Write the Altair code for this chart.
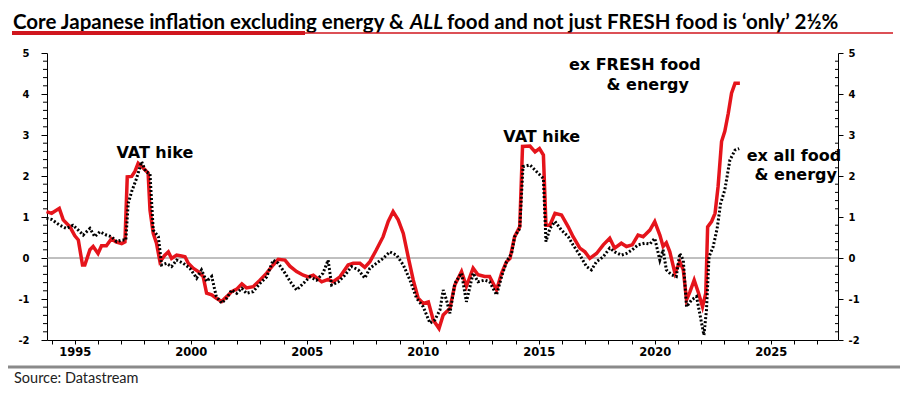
import altair as alt
import pandas as pd

# ---- data (decimal years, % y/y) ----
red_years = [1993.78, 1994.0, 1994.33, 1994.5, 1994.79, 1995.0, 1995.15, 1995.33, 1995.43, 1995.65,
             1995.79, 1996.0, 1996.15, 1996.36, 1996.58, 1996.77, 1997.02, 1997.16, 1997.26, 1997.45,
             1997.59, 1997.73, 1997.88, 1998.02, 1998.16, 1998.24, 1998.38, 1998.52, 1998.67, 1998.88,
             1999.03, 1999.17, 1999.39, 1999.6, 1999.75, 1999.89, 2000.1, 2000.32, 2000.53, 2000.68,
             2000.9, 2001.1, 2001.33, 2001.47, 2001.62, 2001.76, 2001.98, 2002.2, 2002.4, 2002.69,
             2002.98, 2003.27, 2003.55, 2003.77, 2004.06, 2004.27, 2004.56, 2004.85, 2005.06, 2005.28,
             2005.64, 2005.92, 2006.14, 2006.43, 2006.78, 2007.0, 2007.29, 2007.5, 2007.72, 2008.0,
             2008.29, 2008.51, 2008.72, 2008.94, 2009.16, 2009.37, 2009.59, 2009.8, 2010.02, 2010.24,
             2010.45, 2010.7, 2010.88, 2011.17, 2011.38, 2011.67, 2011.88, 2012.17, 2012.38, 2012.67,
             2012.88, 2013.18, 2013.4, 2013.61, 2013.76, 2013.96, 2014.18, 2014.3, 2014.62, 2014.84,
             2015.03, 2015.2, 2015.31, 2015.48, 2015.7, 2015.98, 2016.27, 2016.48, 2016.77, 2016.99,
             2017.2, 2017.49, 2017.78, 2018.06, 2018.27, 2018.56, 2018.78, 2019.03, 2019.28, 2019.5,
             2019.79, 2020.0, 2020.22, 2020.36, 2020.5, 2020.65, 2020.87, 2021.08, 2021.23, 2021.37,
             2021.52, 2021.7, 2021.89, 2022.06, 2022.2, 2022.28, 2022.45, 2022.6, 2022.73, 2022.88,
             2023.02, 2023.17, 2023.31, 2023.46, 2023.67]
red_vals = [1.13, 1.09, 1.21, 0.93, 0.76, 0.54, 0.44, -0.17, -0.17, 0.2,
            0.28, 0.11, 0.3, 0.3, 0.47, 0.39, 0.35, 0.39, 1.98, 1.99,
            2.11, 2.31, 2.23, 2.15, 2.07, 1.17, 0.6, 0.36, -0.09, 0.07,
            0.15, -0.01, 0.07, 0.05, 0.03, -0.13, -0.25, -0.33, -0.45, -0.86,
            -0.9, -0.98, -1.06, -0.98, -0.9, -0.82, -0.76, -0.63, -0.73, -0.7,
            -0.54, -0.37, -0.17, -0.03, -0.05, -0.2, -0.33, -0.42, -0.46, -0.42,
            -0.58, -0.52, -0.58, -0.46, -0.17, -0.13, -0.13, -0.23, -0.09, 0.2,
            0.52, 0.89, 1.13, 0.93, 0.6, 0.03, -0.54, -0.98, -1.11, -1.07,
            -1.51, -1.72, -1.39, -1.23, -0.66, -0.33, -0.69, -0.25, -0.41, -0.45,
            -0.45, -0.78, -0.37, -0.09, -0.01, 0.52, 0.76, 2.72, 2.73, 2.59,
            2.67, 2.51, 0.8, 0.8, 1.09, 1.05, 0.76, 0.52, 0.24, 0.15,
            -0.01, 0.11, 0.32, 0.48, 0.24, 0.36, 0.28, 0.32, 0.56, 0.52,
            0.68, 0.89, 0.56, 0.28, 0.37, 0.15, -0.37, -0.09, -0.29, -1.02,
            -0.82, -0.54, -0.86, -1.19, -0.86, 0.76, 0.89, 1.09, 1.74, 2.84,
            3.09, 3.53, 4.02, 4.26, 4.26]

blk_years = [1993.78, 1994.0, 1994.35, 1994.64, 1994.92, 1995.15, 1995.36, 1995.65, 1995.86, 1996.08,
             1996.36, 1996.58, 1996.8, 1997.02, 1997.2, 1997.3, 1997.45, 1997.66, 1997.88, 1998.06,
             1998.24, 1998.38, 1998.6, 1998.74, 1998.95, 1999.17, 1999.39, 1999.68, 1999.96, 2000.25,
             2000.46, 2000.68, 2000.9, 2001.1, 2001.33, 2001.55, 2001.76, 2001.98, 2002.2, 2002.4,
             2002.69, 2002.98, 2003.27, 2003.55, 2003.77, 2004.06, 2004.34, 2004.56, 2004.85, 2005.13,
             2005.42, 2005.7, 2005.92, 2006.07, 2006.36, 2006.64, 2006.93, 2007.22, 2007.5, 2007.72,
             2008.0, 2008.29, 2008.58, 2008.87, 2009.16, 2009.45, 2009.73, 2010.02, 2010.31, 2010.52,
             2010.74, 2010.88, 2011.02, 2011.17, 2011.38, 2011.67, 2011.88, 2012.17, 2012.38, 2012.67,
             2012.88, 2013.18, 2013.4, 2013.61, 2013.83, 2013.96, 2014.18, 2014.32, 2014.62, 2014.9,
             2015.2, 2015.31, 2015.48, 2015.7, 2015.98, 2016.27, 2016.48, 2016.77, 2017.06, 2017.27,
             2017.49, 2017.78, 2018.06, 2018.27, 2018.56, 2018.78, 2019.03, 2019.28, 2019.57, 2019.79,
             2020.0, 2020.22, 2020.36, 2020.5, 2020.72, 2020.93, 2021.08, 2021.23, 2021.37, 2021.59,
             2021.8, 2022.02, 2022.12, 2022.23, 2022.34, 2022.52, 2022.69, 2022.84, 2023.02, 2023.24,
             2023.46, 2023.64]
blk_vals = [0.97, 0.94, 0.8, 0.72, 0.8, 0.68, 0.56, 0.72, 0.52, 0.64,
            0.56, 0.52, 0.4, 0.44, 0.44, 1.33, 1.62, 1.94, 2.35, 2.1,
            2.06, 0.68, 0.52, -0.17, -0.13, -0.21, -0.05, -0.13, -0.25, -0.49,
            -0.29, -0.57, -0.45, -0.94, -1.1, -0.98, -0.78, -0.86, -0.74, -0.86,
            -0.82, -0.62, -0.46, -0.05, -0.13, -0.37, -0.62, -0.78, -0.62, -0.46,
            -0.54, -0.37, -0.05, -0.66, -0.58, -0.42, -0.21, -0.29, -0.49, -0.25,
            -0.13, -0.01, 0.15, 0.07, -0.17, -0.54, -0.98, -1.19, -1.59, -1.51,
            -1.27, -0.78, -1.02, -1.35, -0.62, -0.37, -1.07, -0.37, -0.58, -0.54,
            -0.58, -0.9, -0.45, -0.09, 0.11, 0.52, 0.72, 2.23, 2.27, 2.11,
            1.94, 0.4, 0.72, 0.89, 0.68, 0.52, 0.32, 0.07, -0.21, -0.29,
            -0.09, 0.03, 0.24, 0.15, 0.07, 0.11, 0.2, 0.32, 0.36, 0.34,
            0.48, -0.05, 0.2, -0.29, -0.41, -0.45, 0.11, -0.05, -1.19, -1.02,
            -0.94, -1.59, -1.88, -1.27, 0.03, 0.28, 0.72, 1.33, 1.66, 2.39,
            2.63, 2.67]

ann_labels = ["VAT hike", "VAT hike", "ex FRESH food", "& energy", "ex all food", "& energy"]
ann_x = [1998.45, 2015.13, 2019.14, 2019.7, 2026.0, 2026.08]
ann_y = [2.56, 2.95, 4.7, 4.23, 2.5, 2.03]

x_tick_years = list(range(1994, 2028))
y_major = [-2, -1, 0, 1, 2, 3, 4, 5]
y_minor = [-1.8, -1.6, -1.4, -1.2, -0.8, -0.6, -0.4, -0.2, 0.2, 0.4, 0.6, 0.8,
           1.2, 1.4, 1.6, 1.8, 2.2, 2.4, 2.6, 2.8, 3.2, 3.4, 3.6, 3.8, 4.2, 4.4, 4.6, 4.8]

title_1 = "Core Japanese inflation excluding energy &"
title_2 = "ALL"
title_3 = "food and not just FRESH food is \u2018only\u2019 2\u00bd%"
source_text = "Source: Datastream"

# ---- chart ----
W, H = 791, 287
PL, PT = 39, 45  # plot origin at page (47, 53)

red_df = pd.DataFrame({"year": red_years, "val": red_vals})
blk_df = pd.DataFrame({"year": blk_years, "val": blk_vals})
ann_df = pd.DataFrame({"year": ann_x, "val": ann_y, "label": ann_labels})
minor_df = pd.DataFrame({"val": y_minor})
one = pd.DataFrame({"val": [0]})

xscale = alt.Scale(domain=[1993.8, 2027.9], nice=False, zero=False)
yscale = alt.Scale(domain=[-2, 5], nice=False, zero=False)

xaxis = alt.Axis(values=x_tick_years, labelExpr="datum.value % 5 == 0 ? '' + datum.value : ''",
                 tickSize=4, tickColor="black", domainColor="black", labelColor="black",
                 labelFont="DejaVu Sans", labelFontWeight="bold", labelFontSize=11.5,
                 labelPadding=2, grid=False, title=None, labelOverlap=False, labelFlush=False)
X = alt.X("year:Q", scale=xscale, axis=xaxis)

left_major = alt.Axis(orient="left", values=y_major, labelExpr="'' + datum.value", tickSize=6,
                      tickColor="black", domainColor="black", labelColor="black",
                      labelFont="DejaVu Sans", labelFontWeight="bold", labelFontSize=10,
                      labelPadding=12, grid=False, title=None, labelOverlap=False)
right_major = alt.Axis(orient="right", values=y_major, labelExpr="'' + datum.value", tickSize=5,
                       tickColor="black", domainColor="black", labelColor="black",
                       labelFont="DejaVu Sans", labelFontWeight="bold", labelFontSize=10,
                       labelPadding=5, grid=False, title=None, labelOverlap=False)

RED = "#e5141b"

red = alt.Chart(red_df).mark_line(color=RED, strokeWidth=3.5).encode(
    x=X, y=alt.Y("val:Q", scale=yscale, axis=left_major))
blk = alt.Chart(blk_df).mark_line(color="black", strokeWidth=3, strokeDash=[2, 2]).encode(
    x=X, y=alt.Y("val:Q", scale=yscale, axis=None))
# minor ticks (left: outward, right: inward)
lminor = alt.Chart(minor_df).mark_rule(color="black", strokeWidth=1).encode(
    y=alt.Y("val:Q", scale=yscale, axis=None), x=alt.value(-4), x2=alt.value(0))
rminor = alt.Chart(minor_df).mark_rule(color="black", strokeWidth=1).encode(
    y=alt.Y("val:Q", scale=yscale, axis=None), x=alt.value(W - 3), x2=alt.value(W))
zero = alt.Chart(one).mark_rule(color="#808080", strokeWidth=1).encode(
    y=alt.Y("val:Q", scale=yscale, axis=right_major))
ann = alt.Chart(ann_df).mark_text(font="DejaVu Sans", fontWeight="bold", fontSize=16,
                                  color="black").encode(
    x=X, y=alt.Y("val:Q", scale=yscale, axis=None), text="label:N")


def ptext(s, ax, ay, **kw):
    return alt.Chart(one).mark_text(text=s, align="left", baseline="alphabetic", **kw).encode(
        x=alt.value(ax - 8 - PL), y=alt.value(ay - 8 - PT))


def prule(ax1, ax2, ay, color, w):
    return alt.Chart(one).mark_rule(color=color, strokeWidth=w).encode(
        x=alt.value(ax1 - 8 - PL), x2=alt.value(ax2 - 8 - PL), y=alt.value(ay - 8 - PT))


# absolute page coordinates
TFS = 20.5
t1 = ptext(title_1, 13, 28.5, font="Lato", fontWeight="bold", fontSize=TFS, color="black")
t2 = ptext(title_2, 410, 28.5, font="Lato", fontWeight="bold", fontStyle="italic", fontSize=TFS,
           color="black")
t3 = ptext(title_3, 447, 28.5, font="Lato", fontWeight="bold", fontSize=TFS, color="black")
u1 = prule(12, 305, 33, "#d0161e", 4)
u2 = prule(305, 893, 33, "#d0161e", 1.3)
g1 = prule(7, 900, 367, "#8a8a8a", 3)
src = ptext(source_text, 14, 383, font="Lato", fontSize=14.5, color="#222222")

chart = alt.layer(zero, red, blk, lminor, rminor, ann, t1, t2, t3, u1, u2, g1, src).resolve_scale(
    y="independent"
).properties(
    width=W, height=H,
    autosize=alt.AutoSizeParams(type="none"),
    padding={"left": PL, "top": PT, "right": 63, "bottom": 47},
    background="white",
).configure_view(stroke=None)

chart.save("out.html", embed_options={"renderer": "svg", "actions": False})
